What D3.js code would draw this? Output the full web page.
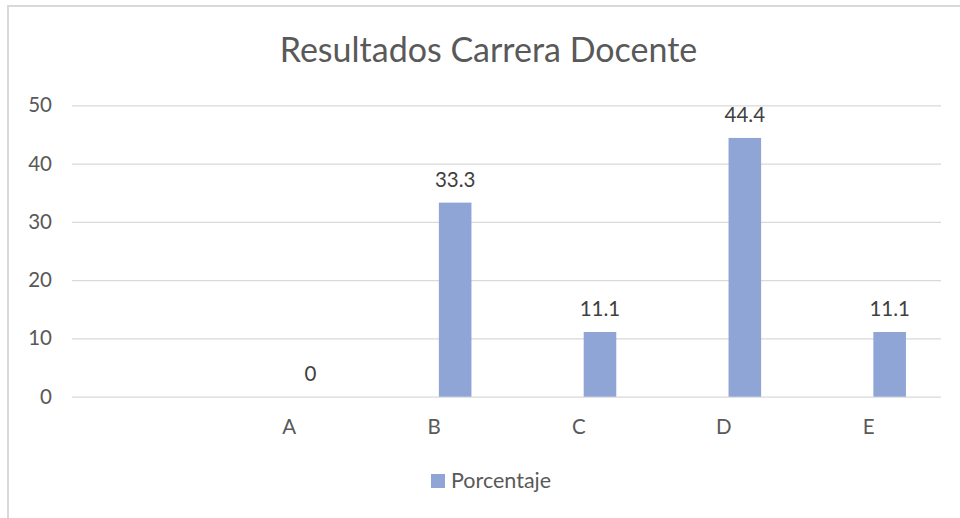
<!DOCTYPE html>
<html lang="es">
<head>
  <meta charset="UTF-8">
  <script src="https://cdn.jsdelivr.net/npm/d3@7"></script>
  <style>
    body { margin: 0; background: #fff; }
    svg { display: block; }
    svg text { font-family: Lato, "Open Sans", sans-serif; }
    .grid line { stroke: #d9d9d9; stroke-width: 1.3; }
    .grid text, .xaxis text { fill: #595959; font-size: 20.5px; }
    .val { fill: #404040; font-size: 20.5px; }
  </style>
</head>
<body>
<svg></svg>
<script>
  // data (first category is an empty slot)
  var categories = ["", "A", "B", "C", "D", "E"];
  var values = [null, 0, 33.3, 11.1, 44.4, 11.1];
  var yTicks = [0, 10, 20, 30, 40, 50];
  var seriesName = "Porcentaje";
  var title = "Resultados Carrera Docente";

  var W = 960, H = 518;
  var plot = {left: 72, right: 941, top: 105.3, bottom: 396.7};
  var barColor = "#8fa5d5";

  var svg = d3.select("svg").attr("width", W).attr("height", H);

  // chart frame (only top and left edges visible)
  svg.append("line").attr("x1", 8).attr("x2", 8).attr("y1", 5).attr("y2", H)
    .attr("stroke", "#d9d9d9").attr("stroke-width", 2);
  svg.append("line").attr("x1", 7).attr("x2", W).attr("y1", 6).attr("y2", 6)
    .attr("stroke", "#d9d9d9").attr("stroke-width", 2);

  svg.append("text")
    .attr("x", 488.5).attr("y", 62)
    .attr("text-anchor", "middle")
    .attr("fill", "#595959")
    .style("font-size", "34px")
    .text(title);

  var x = d3.scaleBand()
    .domain(categories)
    .range([plot.left, plot.right])
    .padding(0);

  var y = d3.scaleLinear()
    .domain([0, 50])
    .range([plot.bottom, plot.top]);

  // gridlines + y labels
  var yAxis = d3.axisLeft(y)
    .tickValues(yTicks)
    .tickSize(-(plot.right - plot.left))
    .tickPadding(20);

  svg.append("g")
    .attr("class", "grid")
    .attr("transform", "translate(" + plot.left + ",0)")
    .call(yAxis)
    .call(function(g){ g.select(".domain").remove(); });

  var xAxis = d3.axisBottom(x).tickSize(0).tickPadding(23);
  svg.append("g")
    .attr("class", "xaxis")
    .attr("transform", "translate(0," + plot.bottom + ")")
    .call(xAxis)
    .call(function(g){ g.select(".domain").remove(); });

  // bar sits in the right half of each category slot
  var bw = x.bandwidth();
  var barX = function(c){ return x(c) + bw * 0.533; };
  var barW = bw * 0.225;

  var data = categories.map(function(c, i){ return {cat: c, v: values[i]}; })
    .filter(function(d){ return d.v !== null; });

  svg.selectAll(".bar")
    .data(data)
    .enter().append("rect")
    .attr("class", "bar")
    .attr("x", function(d){ return barX(d.cat); })
    .attr("width", barW)
    .attr("y", function(d){ return y(d.v); })
    .attr("height", function(d){ return y(0) - y(d.v); })
    .attr("fill", barColor);

  svg.selectAll(".val")
    .data(data)
    .enter().append("text")
    .attr("class", "val")
    .attr("text-anchor", "middle")
    .attr("x", function(d){ return barX(d.cat) + barW / 2; })
    .attr("y", function(d){ return y(d.v) - 16; })
    .text(function(d){ return d.v; });

  // legend
  var lg = svg.append("g").attr("transform", "translate(431,474)");
  lg.append("rect").attr("width", 14).attr("height", 14).attr("fill", barColor);
  lg.append("text").attr("x", 20).attr("y", 14)
    .attr("fill", "#595959").style("font-size", "21.5px")
    .text(seriesName);
</script>
</body>
</html>
